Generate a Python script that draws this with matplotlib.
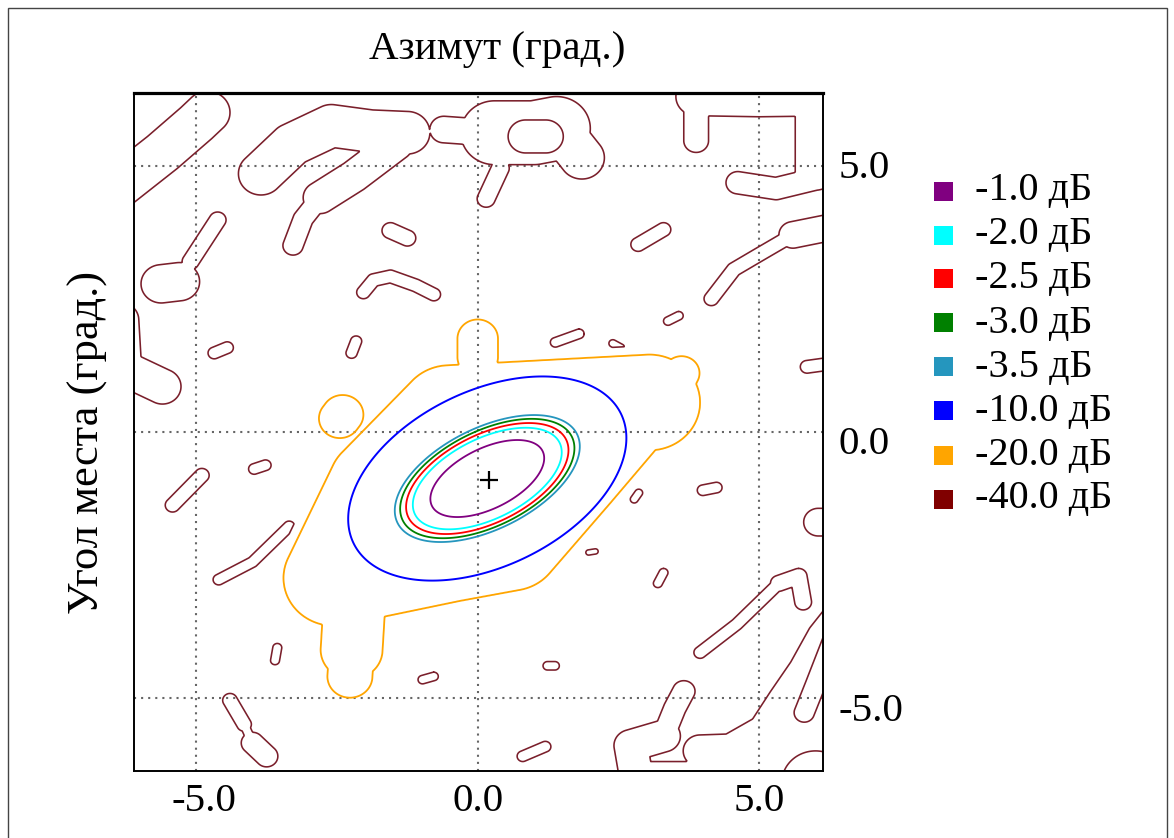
import numpy as np
import matplotlib
matplotlib.use("Agg")
import matplotlib.pyplot as plt
from matplotlib.patches import Rectangle
from matplotlib.transforms import ScaledTranslation

# ------------------------------------------------------------------ data
levels_db = [-40.0, -20.0, -10.0, -3.5, -3.0, -2.5, -2.0, -1.0]
level_colors = ['#7a1f2b', '#FFA500', '#0000FF', '#2596BE',
                '#008000', '#FF0000', '#00FFFF', '#800080']
legend_labels = ['-1.0 дБ', '-2.0 дБ', '-2.5 дБ', '-3.0 дБ',
                 '-3.5 дБ', '-10.0 дБ', '-20.0 дБ', '-40.0 дБ']
legend_colors = ['#800080', '#00FFFF', '#FF0000', '#008000',
                 '#2596BE', '#0000FF', '#FFA500', '#800000']
x_ticks = [-5.0, 0.0, 5.0]
y_ticks = [-5.0, 0.0, 5.0]
x_tick_labels = ['-5.0', '0.0', '5.0']
y_tick_labels = ['-5.0', '0.0', '5.0']
x_limits = (-6.105, 6.133)
y_limits = (-6.372, 6.367)
title_text = 'Азимут (град.)'
ylabel_text = 'Угол места (град.)'

# main lobe: measured semi-axes (deg) of the -1, -3.5 and -10 dB ellipses
beam_center = (0.17, -0.88)
beam_tilt_deg = 28.6
lobe_levels_abs = [1.0, 3.5, 10.0]
lobe_major = [1.11, 1.80, 2.67]
lobe_minor = [0.56, 0.94, 1.63]
boresight = (0.2, -0.91)

# -20 dB pedestal of the main lobe: (half width, ridge line)
shoulder_ridges = [
    (0.90, [(-2.55, -2.75), (-0.5, -2.3), (0.58, -2.09)]),
    (0.90, [(-2.55, -2.75), (-1.75, -1.0), (-0.5, 0.35)]),
    (0.90, [(-0.5, 0.35), (3.05, 0.55)]),
    (0.90, [(2.6, 0.4), (1.66, -0.77), (0.58, -2.09)]),
    (0.36, [(0.0, 1.40), (0.0, 1.75)]),
    (0.32, [(3.55, 0.95), (3.62, 1.10)]),
    (0.55, [(-2.2, -3.4), (-2.24, -4.1)]),
    (0.40, [(-2.24, -4.1), (-2.27, -4.6)]),
    (0.37, [(-2.45, 0.25), (-2.40, 0.32)]),
]

# -40 dB nulls: (half width, ridge line)
null_ridges = [
    (0.40, [(-6.5, 4.5), (-5.6, 5.25), (-5.0, 5.8), (-4.8, 6.0)]),
    (0.40, [(-3.85, 4.85), (-3.3, 5.4), (-2.6, 5.75), (-1.9, 5.65), (-1.25, 5.62)]),
    (0.30, [(-1.45, 5.4), (-2.2, 4.8), (-2.8, 4.4)]),
    (0.18, [(-2.8, 4.4), (-3.1, 4.0), (-3.28, 3.5)]),
    (0.25, [(-0.6, 5.68), (0.2, 5.62)]),
    (0.60, [(0.3, 5.62), (1.0, 5.62), (1.4, 5.7)]),
    (0.40, [(1.4, 5.75), (1.85, 5.15)]),
    (0.16, [(0.4, 4.95), (0.15, 4.38)]),
    (0.15, [(-1.55, 3.78), (-1.25, 3.64)]),
    (0.12, [(-2.03, 2.62), (-1.85, 2.85), (-1.55, 2.92), (-1.1, 2.75), (-0.78, 2.58)]),
    (0.15, [(-5.1, 3.2), (-4.62, 3.98)]),
    (0.36, [(-5.62, 2.78), (-5.3, 2.82)]),
    (0.33, [(-6.35, 2.1), (-6.3, 1.2), (-5.6, 0.85)]),
    (0.11, [(-4.68, 1.48), (-4.45, 1.58)]),
    (0.10, [(-2.24, 1.48), (-2.16, 1.70)]),
    (0.22, [(3.88, 6.7), (3.88, 5.47)]),
    (0.36, [(3.88, 6.3), (5.0, 6.28), (6.5, 6.3)]),
    (0.36, [(6.0, 6.3), (6.0, 4.9)]),
    (0.21, [(4.62, 4.68), (5.3, 4.57), (6.0, 4.75)]),
    (0.25, [(6.4, 3.87), (5.6, 3.7)]),
    (0.13, [(5.6, 3.7), (5.0, 3.33), (4.55, 3.05), (4.15, 2.5)]),
    (0.13, [(2.85, 3.52), (3.3, 3.8)]),
    (0.08, [(3.38, 2.08), (3.57, 2.18)]),
    (0.09, [(1.38, 1.68), (1.8, 1.84)]),
    (0.07, [(2.4, 1.66), (2.54, 1.58)]),
    (0.12, [(5.85, 1.22), (6.4, 1.3)]),
    (0.10, [(-3.97, -0.7), (-3.77, -0.63)]),
    (0.13, [(-5.42, -1.38), (-4.9, -0.82)]),
    (0.10, [(-4.6, -2.78), (-4.0, -2.45), (-3.35, -1.78)]),
    (0.08, [(-3.6, -4.3), (-3.56, -4.06)]),
    (0.08, [(-0.98, -4.66), (-0.78, -4.6)]),
    (0.13, [(-4.4, -5.05), (-4.15, -5.5)]),
    (0.08, [(-4.15, -5.5), (-4.0, -5.85)]),
    (0.20, [(-4.0, -5.85), (-3.75, -6.1)]),
    (0.07, [(2.78, -1.27), (2.86, -1.15)]),
    (0.10, [(4.0, -1.1), (4.24, -1.05)]),
    (0.05, [(1.97, -2.27), (2.09, -2.25)]),
    (0.08, [(3.2, -2.85), (3.3, -2.65)]),
    (0.26, [(6.05, -1.7), (6.5, -1.7)]),
    (0.11, [(3.95, -4.15), (4.6, -3.62), (5.35, -2.85)]),
    (0.15, [(5.35, -2.85), (5.7, -2.72), (5.78, -3.2)]),
    (0.30, [(2.85, -6.7), (2.72, -5.9), (3.3, -5.72)]),
    (0.20, [(3.3, -5.72), (3.5, -5.2), (3.66, -4.88)]),
    (0.30, [(3.95, -6.0), (4.5, -5.98), (5.1, -5.62), (5.45, -5.05),
            (5.82, -4.48), (6.15, -3.85), (6.45, -3.45)]),
    (0.80, [(4.6, -6.9), (6.8, -4.7)]),
    (0.40, [(3.0, -6.6), (4.6, -6.6)]),
    (0.10, [(0.8, -6.1), (1.2, -5.92)]),
    (0.08, [(1.24, -4.4), (1.37, -4.4)]),
]

# local maxima lying inside null regions: (half width, ridge line)
peak_ridges = [
    (0.31, [(0.85, 5.55), (1.21, 5.55)]),
    (0.18, [(5.8, -5.28), (6.0, -4.75), (6.35, -3.8)]),
    (0.60, [(6.0, -6.6), (6.0, -6.6)]),
]

# ------------------------------------------------------------------ field
xs = np.arange(-6.6, 6.6, 0.015)
ys = np.arange(-6.8, 6.8, 0.015)
X, Y = np.meshgrid(xs, ys)


def dist_to_polyline(pts):
    pts = np.asarray(pts, float)
    d = np.full(X.shape, np.inf)
    for (x0, y0), (x1, y1) in zip(pts[:-1], pts[1:]):
        dx, dy = x1 - x0, y1 - y0
        L2 = dx * dx + dy * dy
        t = 0.0 if L2 == 0 else np.clip(((X - x0) * dx + (Y - y0) * dy) / L2, 0, 1)
        d = np.minimum(d, np.hypot(X - x0 - t * dx, Y - y0 - t * dy))
    return d


def loglog_interp(labs, tab_l, tab_v):
    lx = np.log(labs)
    px = np.log(np.asarray(tab_l, float))
    py = np.log(np.asarray(tab_v, float))
    idx = np.clip(np.searchsorted(px, lx) - 1, 0, len(px) - 2)
    slope = (py[idx + 1] - py[idx]) / (px[idx + 1] - px[idx])
    return np.exp(py[idx] + slope * (lx - px[idx]))


th = np.deg2rad(beam_tilt_deg)
u = (X - beam_center[0]) * np.cos(th) + (Y - beam_center[1]) * np.sin(th)
v = -(X - beam_center[0]) * np.sin(th) + (Y - beam_center[1]) * np.cos(th)

# level at each point = level of the nested ellipse passing through it
lo = np.full(X.shape, np.log(0.01))
hi = np.full(X.shape, np.log(80.0))
for _ in range(36):
    mid = 0.5 * (lo + hi)
    Lm = np.exp(mid)
    g = (u / loglog_interp(Lm, lobe_levels_abs, lobe_major)) ** 2 + \
        (v / loglog_interp(Lm, lobe_levels_abs, lobe_minor)) ** 2
    outside = g > 1.0
    lo = np.where(outside, mid, lo)
    hi = np.where(outside, hi, mid)
Labs = np.exp(0.5 * (lo + hi))
core = np.where(Labs > 11.0, -11.0 - 10.0 * (Labs - 11.0), -Labs)

field = core.copy()
for h, pts in shoulder_ridges:
    d = dist_to_polyline(pts)
    sh = -14.0 - 6.0 * (d / h) ** 2 - 600.0 * np.maximum(0, d - h) ** 2
    field = np.maximum(field, sh)

bg = np.full(X.shape, -30.0)
for h, pts in null_ridges:
    d = dist_to_polyline(pts)
    bg = np.minimum(bg, -48.0 + 8.0 * (d / h) ** 2)
for h, pts in peak_ridges:
    d = dist_to_polyline(pts)
    bg = np.maximum(bg, -32.0 - 8.0 * (d / h) ** 2)

field = np.maximum(field, bg)

# ------------------------------------------------------------------ plot
W, H = 1174, 838
fig = plt.figure(figsize=(W / 100, H / 100), dpi=100)
serif = ['Liberation Serif', 'DejaVu Serif']

ax = fig.add_axes([134 / W, (H - 770.7) / H, 689 / W, (770.7 - 93) / H])
ax.set_xlim(*x_limits)
ax.set_ylim(*y_limits)

for xv in x_ticks:
    ax.axvline(xv, color='#666666', lw=1.5, ls=(0, (1, 2.4)), zorder=1)
for yv in y_ticks:
    ax.axhline(yv, color='#666666', lw=1.5, ls=(0, (1, 2.4)), zorder=1)

ax.contour(X, Y, field, levels=levels_db, colors=level_colors,
           linewidths=[1.15, 1.3, 1.4, 1.3, 1.3, 1.3, 1.3, 1.3],
           linestyles='solid', zorder=2)
ax.plot([boresight[0]], [boresight[1]], marker='+', color='black',
        markersize=13, mew=1.6, zorder=3)

ax.set_xticks(x_ticks)
ax.set_xticklabels(x_tick_labels, family=serif, fontsize=29.5)
ax.yaxis.tick_right()
ax.set_yticks(y_ticks)
ax.set_yticklabels(y_tick_labels, family=serif, fontsize=29.5)
ax.tick_params(axis='x', length=0, pad=9)
ax.tick_params(axis='y', length=0, pad=11)
for lab in ax.get_xticklabels():
    if lab.get_text().startswith('-'):
        lab.set_transform(lab.get_transform() +
                          ScaledTranslation(8 / 100, 0, fig.dpi_scale_trans))
y_label_shift_px = {'5.0': 2, '0.0': -8, '-5.0': -9}
for lab in ax.get_yticklabels():
    dy = y_label_shift_px.get(lab.get_text(), 0)
    lab.set_transform(lab.get_transform() +
                      ScaledTranslation(0, dy / 100, fig.dpi_scale_trans))

for side in ['left', 'right', 'bottom']:
    ax.spines[side].set_linewidth(1.4)
ax.spines['top'].set_linewidth(2.3)

fig.text(497 / W, 1 - 50 / H, title_text, family=serif, fontsize=29.5,
         ha='center', va='center')
fig.text(88 / W, 1 - 442 / H, ylabel_text, family=serif, fontsize=32,
         rotation=90, ha='center', va='center')

# legend
for i, (lab, col) in enumerate(zip(legend_labels, legend_colors)):
    yc = 191 + 44.0 * i
    fig.add_artist(Rectangle((934 / W, 1 - (yc + 9.5) / H), 19 / W, 19 / H,
                             transform=fig.transFigure, facecolor=col,
                             edgecolor='none'))
    fig.text(975 / W, 1 - yc / H, lab, family=serif, fontsize=29,
             ha='left', va='center')

# outer frame
fig.add_artist(Rectangle((8 / W, -0.01), (1167 - 8) / W, 1.01 - 8 / H,
                         transform=fig.transFigure, fill=False,
                         edgecolor='#444444', lw=1.0))

fig.savefig('out.png', dpi=100)
